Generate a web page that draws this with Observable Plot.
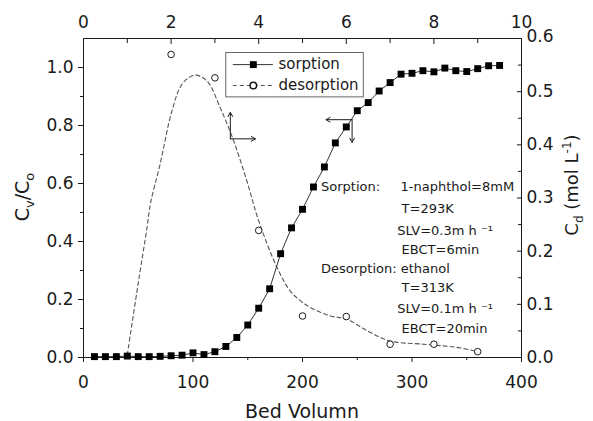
<!DOCTYPE html>
<html><head><meta charset="utf-8">
<script src="https://cdn.jsdelivr.net/npm/d3@7"></script>
<script src="https://cdn.jsdelivr.net/npm/@observablehq/plot@0.6"></script>
<style>
body{margin:0;background:#fff}
#chart svg{font-family:"DejaVu Sans",sans-serif;display:block}
</style>
</head><body><div id="chart"></div>
<script>
// ---- data ----
const sorptionBV = [10,20,30,40,50,60,70,80,90,100,110,120,130,140,150,160,170,180,190,200,
  210,220,230,240,250,260,270,280,290,300,310,320,330,340,350,360,370,380];
const sorptionC = [0.003,0.003,0.003,0.005,0.003,0.003,0.004,0.006,0.008,0.016,0.010,0.020,0.038,0.069,0.112,0.170,0.237,0.358,0.447,0.511,
  0.588,0.657,0.740,0.795,0.851,0.879,0.919,0.948,0.977,0.980,0.989,0.985,0.998,0.989,0.986,0.996,1.006,1.007];
const desorptionT = [2,3,4,5,6,7,8,9];
const desorptionCd = [0.570,0.526,0.239,0.078,0.077,0.025,0.025,0.011];
const fitT  = [1.0,1.25,1.45,1.53,1.75,2.02,2.25,2.53,2.82,3.12,3.43,3.73,4.0,4.42,4.72,4.95,5.18,5.64,6.02,6.48,7.0,7.76,8.53,9.0];
const fitCd = [0.005,0.14,0.244,0.29,0.364,0.464,0.514,0.531,0.52,0.47,0.407,0.332,0.257,0.169,0.125,0.107,0.094,0.078,0.072,0.05,0.031,0.025,0.019,0.011];
const bottomTicks = [0,100,200,300,400], bottomMinor = [50,150,250,350];
const leftTicks = [0,0.2,0.4,0.6,0.8,1.0], leftMinor = [0.1,0.3,0.5,0.7,0.9];
const rightTicks = [0,0.1,0.2,0.3,0.4,0.5,0.6], rightMinor = [0.05,0.15,0.25,0.35,0.45,0.55];
const topTicks = [0,2,4,6,8,10], topMinor = [1,3,5,7,9];
const legendLabels = ["sorption","desorption"];
const noteLines = ["Sorption:","1-naphthol=8mM","T=293K","SLV=0.3m h \u207B\u00B9","EBCT=6min","Desorption: ethanol","T=313K","SLV=0.1m h \u207B\u00B9","EBCT=20min"];

const PER_TOP = 40;          // bed volumes per top-axis unit
const K = 1.1 / 0.6;         // right axis -> left axis factor

const sorption = sorptionBV.map((x,i)=>({x, y: sorptionC[i]}));
const desorption = desorptionT.map((t,i)=>({x: t*PER_TOP, y: desorptionCd[i]*K}));
const fit = fitT.map((t,i)=>({x: t*PER_TOP, y: fitCd[i]*K}));

const ink = "#1a1a1a";
const fmt1 = d3.format(".1f");
const rightLow = rightTicks.slice(0, -1), rightTop = rightTicks.slice(-1);

const plot = Plot.plot({
  width: 593, height: 421,
  marginLeft: 83, marginRight: 72, marginTop: 38, marginBottom: 64,
  style: {fontFamily: "DejaVu Sans, sans-serif", fontSize: "17px", color: ink, background: "white"},
  x: {domain: [0,400]},
  y: {domain: [0,1.1]},
  marks: [
    // axes: bottom (outward ticks)
    Plot.axisX({anchor: "bottom", ticks: bottomTicks, tickSize: 5, tickPadding: 13, label: null, fontSize: 17, stroke: ink}),
    Plot.axisX({anchor: "bottom", ticks: bottomMinor, tickSize: 3, text: null, label: null, stroke: ink}),
    // left (outward)
    Plot.axisY({anchor: "left", ticks: leftTicks, tickSize: 5, tickPadding: 5, tickFormat: fmt1, label: null, fontSize: 17, stroke: ink}),
    Plot.axisY({anchor: "left", ticks: leftMinor, tickSize: 3, text: null, label: null, stroke: ink}),
    // top (inward)
    Plot.axisX({anchor: "top", ticks: topTicks.map(t=>t*PER_TOP), tickSize: 0, tickPadding: 11, tickFormat: d=>d/PER_TOP, label: null, fontSize: 17}),
    Plot.axisX({anchor: "top", ticks: topTicks.map(t=>t*PER_TOP), tickSize: -5, text: null, label: null, stroke: ink}),
    Plot.axisX({anchor: "top", ticks: topMinor.map(t=>t*PER_TOP), tickSize: -4, text: null, label: null, stroke: ink}),
    // right (inward)
    Plot.axisY({anchor: "right", ticks: rightLow.map(v=>v*K), tickSize: 0, tickPadding: 5, tickFormat: d=>fmt1(d/K), label: null, fontSize: 17}),
    Plot.axisY({anchor: "right", ticks: rightTop.map(v=>v*K), tickSize: 0, tickPadding: 5, dy: -2, tickFormat: d=>fmt1(d/K), label: null, fontSize: 17}),
    Plot.axisY({anchor: "right", ticks: rightTicks.map(v=>v*K), tickSize: -5, text: null, label: null, stroke: ink}),
    Plot.axisY({anchor: "right", ticks: rightMinor.map(v=>v*K), tickSize: -4, text: null, label: null, stroke: ink}),
    Plot.frame({stroke: ink}),

    // desorption fitted curve and points
    Plot.line(fit, {x: "x", y: "y", curve: "catmull-rom", stroke: "#555", strokeWidth: 1.1, strokeDasharray: "4,3"}),
    Plot.dot(desorption, {x: "x", y: "y", r: 3.3, stroke: ink, fill: "white", strokeWidth: 1}),

    // sorption line and squares
    Plot.line(sorption, {x: "x", y: "y", stroke: "#333", strokeWidth: 1}),
    Plot.dot(sorption, {x: "x", y: "y", symbol: "square", r: 3.9, fill: "#000", stroke: "none"}),

    // legend
    Plot.rect([0], {x1: 130.4, x2: 256, y1: 0.897, y2: 1.05, fill: "white", stroke: "#666", strokeWidth: 1}),
    Plot.ruleY([1.010], {x1: 136.8, x2: 173.4, stroke: "#333", strokeWidth: 1}),
    Plot.dot([0], {x: 155.1, y: 1.010, symbol: "square", r: 3.9, fill: "#000"}),
    Plot.ruleY([0.938], {x1: 136.8, x2: 173.4, stroke: "#555", strokeWidth: 1.1, strokeDasharray: "4,3"}),
    Plot.dot([0], {x: 155.1, y: 0.938, r: 3.3, stroke: ink, fill: "white"}),
    Plot.text([legendLabels[0]], {x: 178, y: 1.010, text: d=>d, textAnchor: "start", fontSize: 15, fill: ink}),
    Plot.text([legendLabels[1]], {x: 178, y: 0.938, text: d=>d, textAnchor: "start", fontSize: 15, fill: ink}),

    // arrows
    Plot.arrow([0], {x1: 134.1, y1: 0.754, x2: 134.1, y2: 0.845, headLength: 7, stroke: ink, strokeWidth: 1}),
    Plot.arrow([0], {x1: 134.1, y1: 0.754, x2: 157, y2: 0.754, headLength: 7, stroke: ink, strokeWidth: 1}),
    Plot.arrow([0], {x1: 245.3, y1: 0.820, x2: 221.5, y2: 0.820, headLength: 7, stroke: ink, strokeWidth: 1}),
    Plot.arrow([0], {x1: 245.3, y1: 0.820, x2: 245.3, y2: 0.742, headLength: 7, stroke: ink, strokeWidth: 1}),

    // notes
    Plot.text([noteLines[0]], {x: 216.9, y: 0.587, text: d=>d, textAnchor: "start", fontSize: 13, fill: ink}),
    Plot.text([noteLines[1]], {x: 289.5, y: 0.587, text: d=>d, textAnchor: "start", fontSize: 13, fill: ink}),
    Plot.text([noteLines[2]], {x: 290.5, y: 0.512, text: d=>d, textAnchor: "start", fontSize: 13, fill: ink}),
    Plot.text([noteLines[3]], {x: 286.5, y: 0.436, text: d=>d, textAnchor: "start", fontSize: 13, fill: ink}),
    Plot.text([noteLines[4]], {x: 290.5, y: 0.370, text: d=>d, textAnchor: "start", fontSize: 13, fill: ink}),
    Plot.text([noteLines[5]], {x: 216.9, y: 0.305, text: d=>d, textAnchor: "start", fontSize: 13, fill: ink}),
    Plot.text([noteLines[6]], {x: 290.5, y: 0.241, text: d=>d, textAnchor: "start", fontSize: 13, fill: ink}),
    Plot.text([noteLines[7]], {x: 286.5, y: 0.167, text: d=>d, textAnchor: "start", fontSize: 13, fill: ink}),
    Plot.text([noteLines[8]], {x: 290.5, y: 0.098, text: d=>d, textAnchor: "start", fontSize: 13, fill: ink})
  ]
});

document.getElementById("chart").append(plot);

// axis titles with sub/superscripts
const svg = d3.select(plot);
svg.append("text").attr("x", 302).attr("y", 418).attr("text-anchor", "middle")
  .attr("font-size", 19).attr("fill", ink).text("Bed Volumn");

const lt = svg.append("text").attr("transform", "translate(29,197) rotate(-90)")
  .attr("text-anchor", "middle").attr("font-size", 19).attr("fill", ink);
lt.append("tspan").text("C");
lt.append("tspan").attr("font-size", 13).attr("dy", 5).text("v");
lt.append("tspan").attr("dy", -5).text("/C");
lt.append("tspan").attr("font-size", 13).attr("dy", 5).text("o");

const rt = svg.append("text").attr("transform", "translate(578,185) rotate(-90)")
  .attr("text-anchor", "middle").attr("font-size", 18).attr("fill", ink);
rt.append("tspan").text("C");
rt.append("tspan").attr("font-size", 12).attr("dy", 5).text("d");
rt.append("tspan").attr("dy", -5).text(" (mol L");
rt.append("tspan").attr("font-size", 12).attr("dy", -7).text("-1");
rt.append("tspan").attr("dy", 7).text(")");
</script>
</body></html>
